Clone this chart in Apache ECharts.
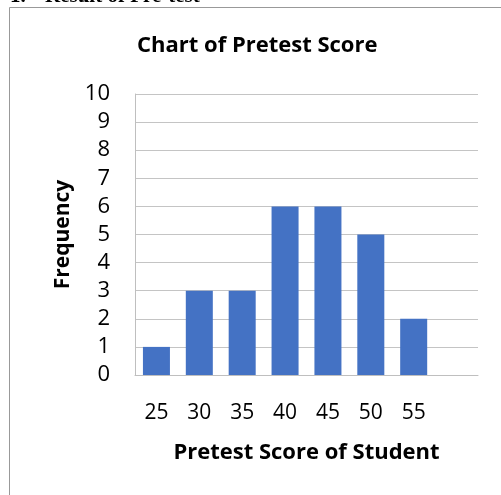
<!DOCTYPE html>
<html>
<head>
<meta charset="utf-8">
<script src="https://cdn.jsdelivr.net/npm/echarts@6/dist/echarts.min.js"></script>
<style>
  html, body { margin: 0; padding: 0; background: #fff; }
  #chart { width: 501px; height: 495px; }
</style>
</head>
<body>
<div id="chart"></div>
<script>
  // values
  var scores = ['25', '30', '35', '40', '45', '50', '55', ''];
  var frequency = [1, 3, 3, 6, 6, 5, 2, null];
  var yTicks = [0, 10, 1]; // min, max, step

  var myChart = echarts.init(document.getElementById('chart'));
  var font = '"Open Sans"';
  var option = {
      backgroundColor: '#fff',
      animation: false,
      title: {
          text: 'Chart of Pretest Score',
          left: 137,
          top: 35,
          padding: 0,
          textStyle: { fontFamily: font, fontWeight: 'bold', fontSize: 22, color: '#000' }
      },
      graphic: [
          { type: 'rect', shape: { x: 9.5, y: 7.5, width: 600, height: 600 },
            style: { fill: 'none', stroke: '#999', lineWidth: 1 }, silent: true },
          { type: 'text', left: 10, top: -14,
            style: { text: '1.', font: 'bold 21px "Liberation Serif"', fill: '#000' } },
          { type: 'text', left: 45, top: -14,
            style: { text: 'Result of Pre-test', font: 'bold 21px "Liberation Serif"', fill: '#000' } }
      ],
      grid: { left: 135, right: 23, top: 94, bottom: 120 },
      xAxis: {
          type: 'category',
          data: scores,
          name: 'Pretest Score of Student',
          nameLocation: 'middle',
          nameGap: 67,
          nameTextStyle: { fontFamily: font, fontWeight: 'bold', fontSize: 22, color: '#000' },
          axisLine: { lineStyle: { color: '#bfbfbf' } },
          axisTick: { show: false },
          axisLabel: { fontFamily: font, fontSize: 21, color: '#000', margin: 28 }
      },
      yAxis: {
          type: 'value',
          min: yTicks[0],
          max: yTicks[1],
          interval: yTicks[2],
          name: 'Frequency',
          nameLocation: 'middle',
          nameGap: 61,
          nameTextStyle: { fontFamily: font, fontWeight: 'bold', fontSize: 21, color: '#000' },
          axisLine: { show: true, lineStyle: { color: '#bfbfbf' } },
          axisTick: { show: false },
          axisLabel: { fontFamily: font, fontSize: 22, color: '#000', margin: 25 },
          splitLine: { lineStyle: { color: '#c4c4c4' } }
      },
      series: [
          {
              name: 'Frequency',
              type: 'bar',
              data: frequency,
              barWidth: '63%',
              itemStyle: { color: '#4472c4' }
          }
      ]
  };
  myChart.setOption(option, true);
</script>
</body>
</html>
